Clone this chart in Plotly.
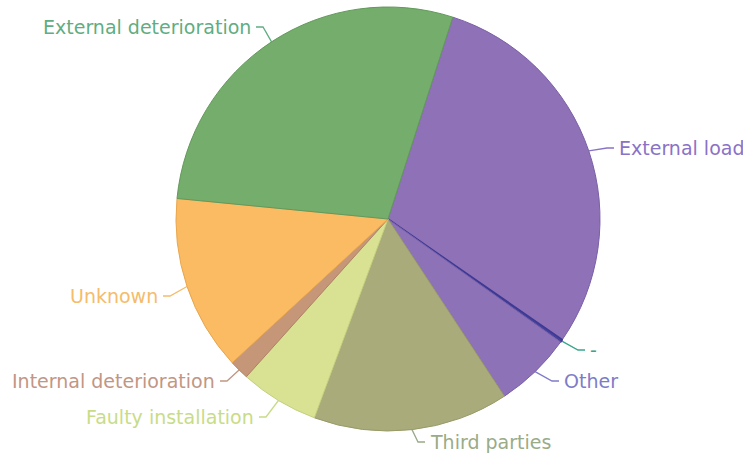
import numpy as np
import plotly.graph_objects as go

# Failure causes and their share of incidents (%)
labels = ["External load", "-", "Other", "Third parties", "Faulty installation",
          "Internal deterioration", "Unknown", "External deterioration"]
shares = [29.7, 0.2, 5.9, 14.9, 6.0, 1.5, 13.4, 28.4]

fill_colors = ["#8e71b6", "#4a47a0", "#8e72b8", "#a9ab7b", "#d9e293",
               "#c69678", "#fabb63", "#75ad6d"]
edge_colors = ["#7a5fa6", "#3d3a95", "#7a60a8", "#979a68", "#c4cf7e",
               "#b08266", "#e9a64e", "#62995a"]
edge_widths = [1, 1.6, 1, 1, 1, 1, 1, 1]
label_colors = ["#8a72c6", "#3aa58a", "#7d7cc8", "#9aab88", "#c8dc88",
                "#c29684", "#f5bc6a", "#5fad82"]

# Text anchor of each label (pixels) and which side of it the leader meets
label_anchor = [(617, 148, "left"), (588, 350, "left"), (562, 381, "left"),
                (428, 442, "left"), (256, 417, "right"), (217, 381, "right"),
                (160, 296, "right"), (253, 27, "right")]

W, H = 743, 460
CX, CY, R = 388, 219, 212
START_DEG = 17.8

fig = go.Figure()

fig.add_trace(go.Pie(
    labels=labels,
    values=shares,
    sort=False,
    direction="clockwise",
    rotation=START_DEG,
    textinfo="none",
    hoverinfo="label+percent",
    marker=dict(colors=fill_colors, line=dict(color=edge_colors, width=edge_widths)),
    domain=dict(x=[(CX - R) / W, (CX + R) / W],
                y=[1 - (CY + R) / H, 1 - (CY - R) / H]),
    showlegend=False,
))

# Leader lines from each slice's outer edge to its label
vals = np.array(shares, dtype=float)
ends = START_DEG + np.cumsum(vals) / vals.sum() * 360
mids = ends - vals / vals.sum() * 360 / 2

annotations = []
for name, mid, (lx, ly, anchor), col in zip(labels, mids, label_anchor, label_colors):
    th = np.radians(mid)
    ex, ey = CX + R * np.sin(th), CY - R * np.cos(th)
    side = 1 if anchor == "left" else -1
    xs = [ex, lx - side * 10, lx - side * 3]
    ys = [ey, ly, ly]
    fig.add_trace(go.Scatter(x=xs, y=ys, mode="lines",
                             line=dict(color=col, width=1.3),
                             hoverinfo="skip", showlegend=False,
                             xaxis="x", yaxis="y"))
    annotations.append(dict(x=lx, y=ly, xref="x", yref="y", text=name,
                            showarrow=False, xanchor=anchor, yanchor="middle",
                            font=dict(family="DejaVu Sans", size=19, color=col)))

fig.update_layout(
    width=W, height=H,
    margin=dict(l=0, r=0, t=0, b=0),
    paper_bgcolor="white", plot_bgcolor="rgba(0,0,0,0)",
    xaxis=dict(range=[0, W], visible=False, fixedrange=True, domain=[0, 1]),
    yaxis=dict(range=[H, 0], visible=False, fixedrange=True, domain=[0, 1]),
    annotations=annotations,
)

fig.write_html("out.html")
